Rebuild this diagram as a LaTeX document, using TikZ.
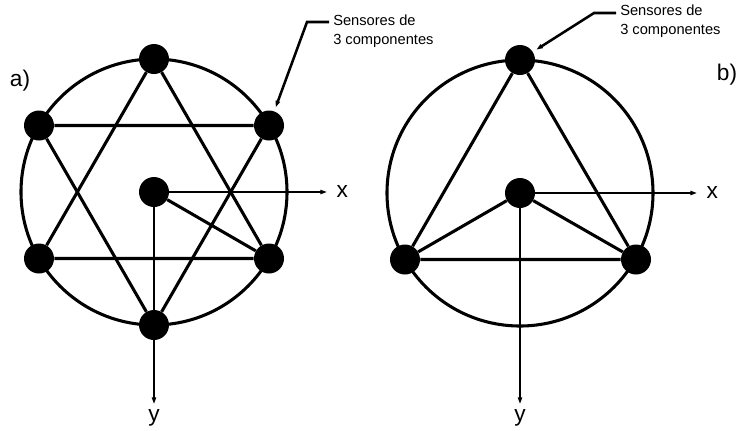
\documentclass[tikz,border=0pt]{standalone}
\usepackage{fontspec}
\setmainfont{Liberation Sans}
\usetikzlibrary{positioning,arrows.meta}

\begin{document}
\begin{tikzpicture}[
    x=0.75pt, y=-0.75pt,
    sensor/.style={circle, fill=black, inner sep=0pt, minimum size=22.5pt},
    ln/.style={line width=2.3pt},
    arr/.style={-{Latex[length=8pt,width=3.5pt]}, line width=1.9pt},
    note/.style={align=left, font=\fontsize{11}{14.5}\selectfont, inner sep=0pt, anchor=west},
    lab/.style={font=\fontsize{17}{17}\selectfont, inner sep=0pt}
]
\useasboundingbox (0,0) rectangle (740,430);

% a) six sensors
\node[sensor] (ca) at (154,192) {};
\node[sensor] (ta) at (154,59) {};
\node[sensor] (ur) at (269,125.5) {};
\node[sensor] (lr) at (269,258.5) {};
\node[sensor] (ba) at (154,325) {};
\node[sensor] (ll) at (39,258.5) {};
\node[sensor] (ul) at (39,125.5) {};

\draw[ln] (ca.center) circle[radius=133];
\draw[ln] (ta) -- (ll) -- (lr) -- (ta);
\draw[ln] (ul) -- (ur) -- (ba) -- (ul);
\draw[ln] (ca) -- (lr);

\coordinate (xa) at (331,192);
\coordinate (ya) at (154,408);
\draw[arr] (ca) -- (xa);
\draw[arr] (ca) -- (ya);
\node[lab, right=4pt of xa] (xla) {x};
\node[lab, below=1pt of ya] (yla) {y};
\node[lab] (tla) at (20,81) {a)};

\node[note] (notea) at (333,31) {Sensores de\\3 componentes};
\coordinate (sa) at (329,22);
\coordinate (ka) at (307,22);
\draw[arr] (sa) -- (ka) -- (ur);

% b) three sensors
\node[sensor] (cb) at (520,193) {};
\node[sensor] (tb) at (520,60) {};
\node[sensor] (rb) at (636,259.5) {};
\node[sensor] (lb) at (405,259.5) {};

\draw[ln] (cb.center) circle[radius=133];
\draw[ln] (tb) -- (lb) -- (rb) -- (tb);
\draw[ln] (lb) -- (cb) -- (rb);

\coordinate (xb) at (701,193);
\coordinate (yb) at (520,408);
\draw[arr] (cb) -- (xb);
\draw[arr] (cb) -- (yb);
\node[lab, right=4pt of xb] (xlb) {x};
\node[lab, below=1pt of yb] (ylb) {y};
\node[lab] (tlb) at (727,75) {b)};

\node[note] (noteb) at (620,21) {Sensores de\\3 componentes};
\coordinate (sb) at (616,13);
\coordinate (kb) at (594,13);
\draw[arr] (sb) -- (kb) -- (tb);

\end{tikzpicture}
\end{document}
